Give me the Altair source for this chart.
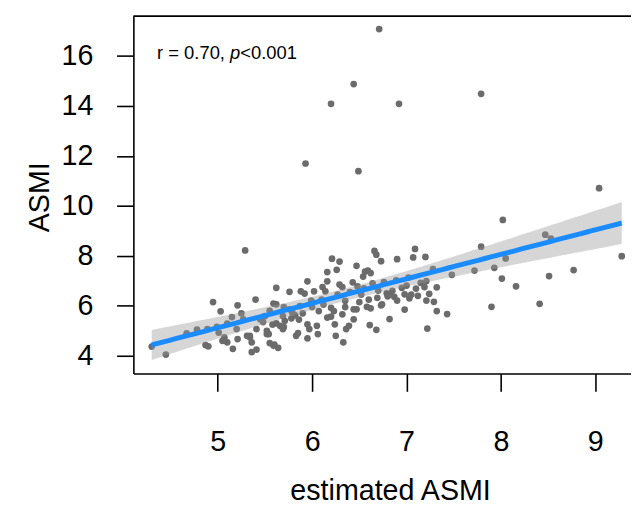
import altair as alt
import numpy as np
import pandas as pd

est_asmi = [
    6.71, 6.44, 6.20, 6.92, 7.79, 5.93, 6.49, 9.04, 8.02, 8.47,
    8.53, 7.79, 7.09, 5.29, 9.28, 8.05, 6.66, 6.68, 6.73, 6.90,
    7.07, 7.20, 7.28, 7.48, 7.72, 7.93, 8.01, 8.16, 7.90, 8.41,
    8.51, 8.77, 7.22, 7.43, 7.32, 7.29, 7.21, 7.24, 7.19, 7.10,
    7.21, 7.32, 7.02, 7.00, 6.98, 7.03, 6.98, 6.82, 6.68, 6.90,
    6.87, 6.81, 6.79, 6.80, 6.73, 6.69, 6.76, 6.89, 6.47, 6.54,
    6.59, 6.62, 6.56, 6.70, 6.60, 6.58, 6.62, 6.74, 6.52, 6.48,
    6.47, 6.61, 6.21, 6.29, 6.16, 6.26, 5.95, 6.16, 6.11, 6.14,
    6.29, 6.32, 6.43, 5.62, 5.76, 5.88, 5.92, 6.02, 5.40, 5.59,
    5.62, 5.87, 5.99, 6.07, 6.20, 6.23, 6.16, 6.20, 6.44, 6.44,
    5.76, 5.79, 5.69, 5.71, 5.66, 5.69, 5.83, 5.85, 5.95, 5.97,
    6.05, 5.95, 6.06, 6.25, 6.33, 5.45, 5.50, 5.41, 5.54, 5.55,
    5.59, 5.64, 5.34, 5.36, 5.36, 5.41, 6.36, 6.39, 6.32, 6.24,
    4.95, 5.03, 5.21, 4.89, 4.67, 4.87, 4.90, 4.30, 4.45, 4.99,
    5.10, 5.07, 5.10, 5.05, 5.16, 5.20, 5.27, 5.31, 5.34, 5.52,
    5.01, 5.21, 5.58, 5.62, 5.70, 5.78, 5.82, 5.86, 5.60, 5.52,
    5.48, 5.90, 6.00, 6.10, 6.27, 6.35, 6.40, 6.12, 5.70, 5.55,
    5.25, 5.15, 4.78, 6.55, 6.50, 6.64, 6.35, 6.85, 6.95, 7.05,
    7.12, 7.15,
]
asmi = [
    17.08, 14.88, 14.09, 14.09, 14.49, 11.70, 11.39, 10.71, 9.44, 8.85,
    8.69, 8.37, 8.28, 8.22, 7.99, 7.90, 8.20, 8.05, 7.79, 7.87,
    7.94, 7.96, 7.47, 7.24, 7.41, 7.52, 7.09, 6.78, 5.96, 6.08,
    7.19, 7.43, 5.09, 5.67, 5.79, 6.16, 6.21, 6.48, 6.75, 6.69,
    6.99, 6.74, 7.13, 6.81, 6.46, 6.30, 5.85, 5.47, 5.04, 6.21,
    6.36, 6.45, 6.50, 6.38, 6.02, 6.32, 6.95, 7.02, 7.60, 7.17,
    7.41, 7.31, 7.37, 6.61, 6.25, 5.96, 5.90, 6.06, 6.45, 6.78,
    5.86, 5.23, 7.89, 7.77, 7.35, 7.44, 6.98, 6.98, 6.75, 6.58,
    6.85, 6.75, 6.94, 6.72, 6.56, 6.58, 6.49, 6.58, 6.25, 6.09,
    6.06, 5.99, 6.21, 5.79, 5.92, 5.79, 5.53, 5.57, 5.86, 5.46,
    5.86, 5.73, 5.59, 5.40, 5.20, 5.07, 4.80, 4.91, 5.26, 5.07,
    5.20, 4.70, 4.87, 4.80, 4.54, 5.46, 5.59, 5.07, 4.87, 4.51,
    4.41, 4.32, 4.80, 4.54, 4.15, 4.25, 5.07, 5.20, 5.66, 5.26,
    6.15, 5.78, 6.02, 5.07, 4.90, 4.43, 4.38, 4.37, 4.05, 5.16,
    5.29, 4.74, 4.54, 4.60, 4.28, 5.07, 5.46, 4.80, 4.74, 4.87,
    4.93, 4.67, 5.25, 5.30, 5.15, 5.50, 5.62, 5.45, 4.45, 5.00,
    5.35, 5.70, 5.95, 6.25, 6.45, 6.20, 6.55, 6.05, 5.95, 5.80,
    5.70, 5.55, 5.05, 6.70, 6.15, 6.90, 5.95, 6.60, 6.72, 6.45,
    6.40, 6.92,
]
x_ticks = [5, 6, 7, 8, 9]
y_ticks = [4, 6, 8, 10, 12, 14, 16]
label_r = "r = 0.70, "
label_p = "p"
label_rest = "<0.001"

# linear fit with 95% confidence band, computed from the data
x = np.array(est_asmi)
y = np.array(asmi)
n = len(x)
b1, b0 = np.polyfit(x, y, 1)
resid = y - (b0 + b1 * x)
s = np.sqrt((resid ** 2).sum() / (n - 2))
xbar = x.mean()
sxx = ((x - xbar) ** 2).sum()
grid = np.linspace(x.min(), x.max(), 80)
fit = b0 + b1 * grid
se = s * np.sqrt(1.0 / n + (grid - xbar) ** 2 / sxx)
tval = 1.972
fitdf = pd.DataFrame({"est": grid, "asmi": fit, "lo": fit - tval * se, "hi": fit + tval * se})
df = pd.DataFrame({"est": est_asmi, "asmi": asmi})

W, H = 504, 362
FONT = "Liberation Sans"

xs = alt.Scale(domain=[4.106, 9.378], nice=False, zero=False)
ys = alt.Scale(domain=[3.289, 17.60], nice=False, zero=False)
xaxis = alt.Axis(values=x_ticks, title="estimated ASMI", grid=False, tickSize=18,
                 labelPadding=37, titleX=260, titleY=119, titleBaseline="middle",
                 titleAnchor="middle")
yaxis = alt.Axis(values=y_ticks, title="ASMI", grid=False, tickSize=17,
                 labelPadding=24, titleX=-95, titleY=183, titleAngle=-90,
                 titleBaseline="middle", titleAlign="center")

pts = alt.Chart(df).mark_circle(size=46, color="#6b6b6b", opacity=1).encode(
    x=alt.X("est:Q", scale=xs, axis=xaxis),
    y=alt.Y("asmi:Q", scale=ys, axis=yaxis),
)
band = alt.Chart(fitdf).mark_area(color="#999999", opacity=0.4).encode(
    x=alt.X("est:Q", scale=xs, axis=xaxis),
    y=alt.Y("lo:Q", scale=ys, axis=yaxis),
    y2="hi:Q",
)
line = alt.Chart(fitdf).mark_line(color="#1a8cff", strokeWidth=5).encode(
    x=alt.X("est:Q", scale=xs, axis=xaxis),
    y=alt.Y("asmi:Q", scale=ys, axis=yaxis),
)
one = pd.DataFrame({"k": [0]})
top = alt.Chart(one).mark_rule(color="black", strokeWidth=1.6).encode(
    x=alt.value(0), x2=alt.value(W), y=alt.value(0)
)
fs = 18.6
t1 = alt.Chart(one).mark_text(text=label_r, align="left", baseline="alphabetic",
                              font=FONT, fontSize=fs, color="black").encode(
    x=alt.value(24), y=alt.value(43))
t2 = alt.Chart(one).mark_text(text=label_p, align="left", baseline="alphabetic",
                              font=FONT, fontSize=fs, fontStyle="italic", color="black").encode(
    x=alt.value(24 + 3.975 * fs), y=alt.value(43))
t3 = alt.Chart(one).mark_text(text=label_rest, align="left", baseline="alphabetic",
                              font=FONT, fontSize=fs, color="black").encode(
    x=alt.value(24 + 3.975 * fs + 0.556 * fs), y=alt.value(43))

chart = alt.layer(pts, band, line, top, t1, t2, t3).properties(
    width=W, height=H,
    autosize=alt.AutoSizeParams(type="none"),
    padding={"left": 127, "top": 5, "right": 0, "bottom": 136},
    background="white",
).configure_view(stroke=None).configure_axis(
    domainColor="black", domainWidth=1.6, tickColor="black", tickWidth=1.6,
    labelFont=FONT, labelFontSize=29, labelColor="black",
    titleFont=FONT, titleFontSize=29, titleColor="black", titleFontWeight="normal",
)

chart.save("out.html", embed_options={"renderer": "svg", "actions": False})
